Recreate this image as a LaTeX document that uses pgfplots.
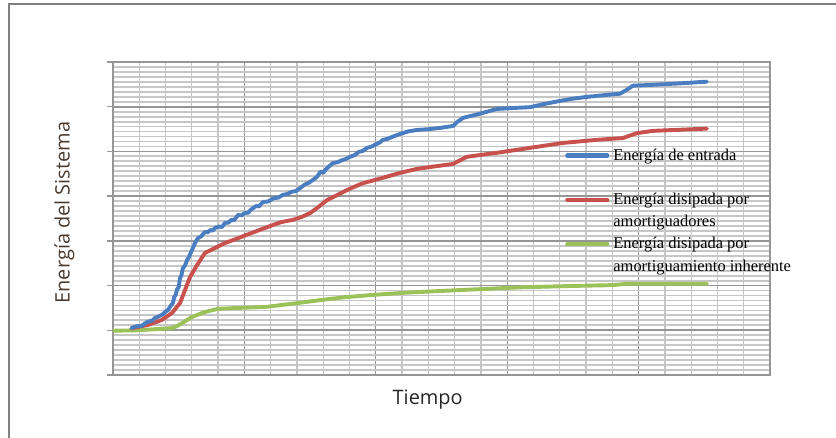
\documentclass[border=0pt]{standalone}
\usepackage{fontspec}
\setmainfont{Open Sans}
\newfontfamily\legfont{Liberation Serif}
\usepackage{pgfplots}
\pgfplotsset{compat=1.18}

\definecolor{cEntrada}{HTML}{4A7EC0}
\definecolor{cAmort}{HTML}{C8504D}
\definecolor{cInher}{HTML}{9BC159}
\definecolor{gMaj}{HTML}{969696}
\definecolor{gMin}{HTML}{C6C6C6}
\definecolor{frameGray}{HTML}{808080}
\definecolor{labelColor}{HTML}{4A3B30}

\begin{document}
\begin{tikzpicture}
  \useasboundingbox (0,0) rectangle (836bp,438bp);
  % outer frame (only left and top edges are visible)
  \draw[frameGray, line width=2bp] (9bp,0bp) -- (9bp,433.5bp) -- (836bp,433.5bp);

  \begin{axis}[
    scale only axis,
    width=657bp, height=313bp,
    at={(113bp,63bp)}, anchor=south west,
    xmin=0, xmax=25, ymin=0, ymax=7,
    xtick={0,5,...,25}, ytick={0,1,...,7},
    minor x tick num=4, minor y tick num=8,
    xticklabels={}, yticklabels={},
    grid=both,
    x grid style={line width=1.3bp},
    y grid style={line width=1.8bp},
    major grid style={gMaj},
    minor grid style={gMin},
    axis line style={gMaj, line width=1.4bp},
    tick align=outside,
    major tick length=6bp, minor tick length=0pt,
    ytick pos=left,
    xtick style={draw=none},
    ytick style={gMaj, line width=1.4bp},
    xlabel={Tiempo},
    ylabel={Energía del Sistema},
    label style={font=\fontsize{20}{24}\selectfont, inner sep=0pt},
    xlabel style={at={(rel axis cs:0.479,0)}, anchor=north, yshift=-15bp, text=black!85},
    ylabel style={at={(rel axis cs:-0.0583,0.519)}, anchor=south, rotate=0, text=labelColor},
    legend image code/.code={\draw[#1] (0bp,0bp) -- (40bp,0bp);},
    legend style={at={(axis cs:17.2,5.124)}, anchor=north west,
      draw=none, fill=none, inner sep=0pt,
      row sep=3.2bp, column sep=4bp,
      font=\legfont\fontsize{16.5}{19}\selectfont,
      nodes={inner sep=0pt, text height=14bp, text depth=5bp},
      cells={anchor=west}},
    every axis plot/.append style={line width=3.9bp, line join=round, line cap=round},
  ]

  % Energia disipada por amortiguamiento inherente
  \addplot[cInher, forget plot] coordinates {
    (0,0.99) (0.95,1.0) (2.25,1.05) (2.45,1.10) (2.63,1.16) (3.01,1.30)
    (3.5,1.41) (4.0,1.48) (4.76,1.50) (5.78,1.52) (7.04,1.61) (7.95,1.68)
    (8.83,1.74) (9.86,1.79) (11.11,1.84) (13.2,1.90) (15.49,1.96)
    (17.39,1.99) (19.0,2.01) (19.56,2.04) (22.60,2.04)
  };

  % Energia disipada por amortiguadores
  \addplot[cAmort, forget plot] coordinates {
    (0.7,1.04) (1.0,1.08) (1.33,1.12) (1.86,1.23) (2.25,1.39) (2.55,1.61)
    (2.74,1.90) (2.93,2.19) (3.2,2.46) (3.5,2.73) (3.88,2.84) (4.26,2.95)
    (4.76,3.06) (5.29,3.18) (5.97,3.33) (6.4,3.42) (6.85,3.47) (7.2,3.54)
    (7.5,3.62) (7.8,3.75) (8.14,3.91) (8.75,4.09) (9.1,4.19) (9.51,4.29)
    (10.27,4.41) (10.92,4.52) (11.57,4.61) (12.3,4.67) (12.94,4.72)
    (13.2,4.80) (13.47,4.88) (14.61,4.97) (15.87,5.08) (17.12,5.19)
    (18.42,5.26) (19.41,5.30) (19.94,5.41) (20.55,5.46) (22.60,5.51)
  };

  % Energia de entrada
  \addplot[cEntrada, forget plot] coordinates {
    (0.7,1.05) (0.9,1.09) (1.1,1.10) (1.2,1.15) (1.33,1.19) (1.5,1.22)
    (1.6,1.28) (1.71,1.30) (1.9,1.36) (2.0,1.42) (2.09,1.45) (2.2,1.55)
    (2.28,1.61) (2.33,1.75) (2.38,1.78) (2.44,1.92) (2.5,1.96) (2.55,2.17)
    (2.6,2.22) (2.66,2.39) (2.74,2.45) (2.82,2.57) (2.9,2.65) (3.01,2.80)
    (3.12,2.95) (3.23,3.06) (3.35,3.10) (3.5,3.20) (3.6,3.19) (3.7,3.24)
    (3.8,3.23) (3.88,3.29) (4.05,3.32) (4.15,3.31) (4.26,3.40) (4.4,3.41)
    (4.5,3.47) (4.6,3.46) (4.76,3.58) (4.9,3.57) (5.0,3.62) (5.15,3.63)
    (5.25,3.70) (5.45,3.78) (5.55,3.77) (5.71,3.87) (5.9,3.88) (6.1,3.95)
    (6.3,3.97) (6.47,4.03) (6.65,4.05) (6.8,4.10) (6.95,4.11) (7.12,4.18)
    (7.3,4.26) (7.45,4.30) (7.6,4.36) (7.76,4.43) (7.9,4.55) (8.0,4.52)
    (8.1,4.60) (8.25,4.68) (8.37,4.74) (8.55,4.76) (8.7,4.80) (8.85,4.83)
    (9.02,4.88) (9.2,4.92) (9.35,4.99) (9.5,5.01) (9.67,5.08) (9.85,5.11)
    (10.0,5.16) (10.15,5.20) (10.27,5.26) (10.45,5.28) (10.6,5.32)
    (10.92,5.39) (11.25,5.45) (11.57,5.48) (12.06,5.50) (12.5,5.53)
    (12.94,5.57) (13.1,5.66) (13.32,5.75) (14.0,5.85) (14.61,5.95)
    (15.2,5.97) (15.87,5.99) (16.4,6.06) (17.01,6.13) (17.5,6.18)
    (18.04,6.22) (18.7,6.26) (19.29,6.29) (19.5,6.36) (19.79,6.47)
    (20.55,6.49) (21.5,6.52) (22.60,6.56)
  };

  \addlegendimage{cEntrada, line width=4.2bp}
  \addlegendimage{empty legend}
  \addlegendimage{cAmort, line width=4.2bp}
  \addlegendimage{empty legend}
  \addlegendimage{cInher, line width=4.2bp}
  \addlegendimage{empty legend}
  \legend{Energía de entrada, {\phantom{E}}, Energía disipada por, amortiguadores,
    Energía disipada por, amortiguamiento inherente}
  \end{axis}
\end{tikzpicture}
\end{document}
